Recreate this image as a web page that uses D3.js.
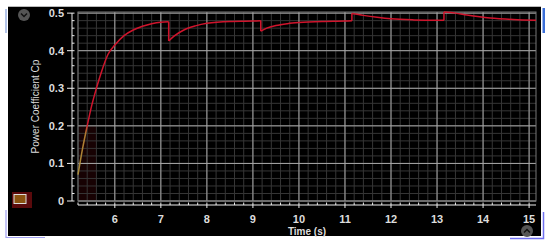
<!DOCTYPE html>
<html>
<head>
<meta charset="utf-8">
<script src="https://cdn.jsdelivr.net/npm/d3@7"></script>
<style>
  body { margin: 0; background: #fff; }
  svg { display: block; font-family: "Liberation Sans", Arial, sans-serif; }
</style>
</head>
<body>
<div id="chart"></div>
<script>
// simulated power coefficient, repeated times mark the step jumps
var time = [5.2, 5.3, 5.4, 5.5, 5.6, 5.7, 5.85, 6.0, 6.2, 6.4, 6.6, 6.8, 7.0, 7.17,
            7.17, 7.3, 7.5, 7.75, 8.0, 8.5, 9.0, 9.17,
            9.17, 9.3, 9.5, 9.75, 10.0, 10.5, 11.0, 11.15,
            11.15, 11.4, 11.7, 12.0, 12.5, 13.0, 13.15,
            13.15, 13.4, 13.65, 14.15, 14.65, 15.15];
var cp   = [0.07, 0.14, 0.2, 0.255, 0.3, 0.34, 0.39, 0.415, 0.44, 0.455, 0.465, 0.472, 0.476, 0.477,
            0.426, 0.44, 0.455, 0.466, 0.473, 0.478, 0.479, 0.48,
            0.452, 0.46, 0.467, 0.472, 0.475, 0.478, 0.479, 0.48,
            0.499, 0.494, 0.489, 0.485, 0.482, 0.481, 0.481,
            0.503, 0.5, 0.495, 0.487, 0.483, 0.481];

var xTicks = [6, 7, 8, 9, 10, 11, 12, 13, 14, 15];
var yTicks = [0, 0.1, 0.2, 0.3, 0.4, 0.5];
var xLabel = "Time (s)";
var yLabel = "Power Coefficient Cp";

var W = 550, H = 244;
var pLeft = 78, pRight = 536, pTop = 12, pBottom = 201;

var x = d3.scaleLinear().domain([5.2, 15.15]).range([pLeft, pRight]);
var y = d3.scaleLinear().domain([0, 0.503]).range([pBottom, pTop]);

var svg = d3.select("#chart").append("svg")
  .attr("width", W)
  .attr("height", H);

// window frame
svg.append("rect").attr("x", 8).attr("y", 7).attr("width", 533).attr("height", 229).attr("fill", "#000");
svg.append("line").attr("x1", 8).attr("x2", 541).attr("y1", 6.5).attr("y2", 6.5).attr("stroke", "#bbb");
svg.append("line").attr("x1", 6).attr("x2", 6).attr("y1", 9).attr("y2", 33).attr("stroke", "#9ab0e0").attr("stroke-width", 1.5);
svg.append("path").attr("d", "M6,210V237.5H45").attr("fill", "none").attr("stroke", "#a0a0f0").attr("stroke-width", 1.2);
svg.append("rect").attr("x", 542.5).attr("y", 8).attr("width", 2.5).attr("height", 25).attr("fill", "#3b6fd8");
svg.append("path").attr("d", "M510,238.5H543.5V212").attr("fill", "none").attr("stroke", "#7070f0").attr("stroke-width", 1.5);

// faint glow near start of curve
svg.append("rect").attr("x", pLeft + 1).attr("y", y(0.2)).attr("width", 17).attr("height", pBottom - y(0.2))
  .attr("fill", "#170203");

// grid
var minorX = d3.range(5.2, 15.16, 0.2);
var minorY = d3.range(0, 0.501, 0.02);

svg.append("g").selectAll("line").data(minorX).enter().append("line")
  .attr("x1", function(d) { return x(d); }).attr("x2", function(d) { return x(d); })
  .attr("y1", pTop).attr("y2", pBottom)
  .attr("stroke", "#363636").attr("stroke-width", 1);
svg.append("g").selectAll("line").data(minorY).enter().append("line")
  .attr("x1", pLeft).attr("x2", pRight)
  .attr("y1", function(d) { return y(d); }).attr("y2", function(d) { return y(d); })
  .attr("stroke", "#363636").attr("stroke-width", 1);
svg.append("g").selectAll("line").data(xTicks).enter().append("line")
  .attr("x1", function(d) { return x(d); }).attr("x2", function(d) { return x(d); })
  .attr("y1", pTop).attr("y2", pBottom)
  .attr("stroke", "#a8a8a8").attr("stroke-width", 1);
svg.append("g").selectAll("line").data(yTicks).enter().append("line")
  .attr("x1", pLeft).attr("x2", pRight)
  .attr("y1", function(d) { return y(d); }).attr("y2", function(d) { return y(d); })
  .attr("stroke", "#a8a8a8").attr("stroke-width", 1);
svg.append("rect").attr("x", pLeft).attr("y", pTop).attr("width", pRight - pLeft).attr("height", pBottom - pTop)
  .attr("fill", "none").attr("stroke", "#777");

// axes
var yAxis = svg.append("g").attr("transform", "translate(72,0)");
yAxis.append("line").attr("y1", y(0.5)).attr("y2", pBottom).attr("stroke", "#eee");
yAxis.selectAll(".minor").data(minorY).enter().append("line")
  .attr("x1", 0).attr("x2", 2.5)
  .attr("y1", function(d) { return y(d); }).attr("y2", function(d) { return y(d); })
  .attr("stroke", "#eee");
yAxis.selectAll(".major").data(yTicks).enter().append("line")
  .attr("x1", -5).attr("x2", 0)
  .attr("y1", function(d) { return y(d); }).attr("y2", function(d) { return y(d); })
  .attr("stroke", "#eee");
yAxis.selectAll("text").data(yTicks).enter().append("text")
  .attr("x", -8).attr("y", function(d) { return y(d) + 4; })
  .attr("text-anchor", "end")
  .attr("fill", "#ddd").style("font-size", "11px").style("font-weight", "bold")
  .text(function(d) { return d === 0 ? "0" : d3.format(".1f")(d); });

var xAxis = svg.append("g").attr("transform", "translate(0,205)");
xAxis.append("line").attr("x1", pLeft).attr("x2", pRight).attr("stroke", "#eee");
xAxis.selectAll(".minor").data(minorX).enter().append("line")
  .attr("x1", function(d) { return x(d); }).attr("x2", function(d) { return x(d); })
  .attr("y1", 0).attr("y2", -2.5).attr("stroke", "#eee");
xAxis.selectAll(".major").data(xTicks).enter().append("line")
  .attr("x1", function(d) { return x(d); }).attr("x2", function(d) { return x(d); })
  .attr("y1", 0).attr("y2", 3).attr("stroke", "#eee");
xAxis.selectAll("text").data(xTicks).enter().append("text")
  .attr("x", function(d) { return x(d); }).attr("y", 18)
  .attr("text-anchor", "middle")
  .attr("fill", "#ddd").style("font-size", "11px").style("font-weight", "bold")
  .text(function(d) { return d; });

svg.append("text")
  .attr("x", (pLeft + pRight) / 2).attr("y", 235)
  .attr("text-anchor", "middle")
  .attr("fill", "#ddd").style("font-size", "10px").style("font-weight", "bold")
  .text(xLabel);

svg.append("text")
  .attr("transform", "translate(39," + ((pTop + pBottom) / 2) + ") rotate(-90)")
  .attr("text-anchor", "middle")
  .attr("fill", "#ddd").style("font-size", "10px")
  .text(yLabel);

// gradient stroke: olive near the bottom, red above
var grad = svg.append("defs").append("linearGradient")
  .attr("id", "cpgrad")
  .attr("gradientUnits", "userSpaceOnUse")
  .attr("x1", 0).attr("x2", 0)
  .attr("y1", y(0)).attr("y2", y(0.5));
grad.append("stop").attr("offset", 0).attr("stop-color", "#a89a40");
grad.append("stop").attr("offset", 0.36).attr("stop-color", "#b07a30");
grad.append("stop").attr("offset", 0.41).attr("stop-color", "#d0142c");
grad.append("stop").attr("offset", 1).attr("stop-color", "#d0142c");

// split series at the jumps
var pts = time.map(function(t, i) { return {t: t, v: cp[i]}; });
var segments = [[]];
pts.forEach(function(p, i) {
  if (i > 0 && p.t === pts[i - 1].t) segments.push([]);
  segments[segments.length - 1].push(p);
});

var smooth = d3.line()
  .curve(d3.curveMonotoneX)
  .x(function(d) { return x(d.t); })
  .y(function(d) { return y(d.v); });
var straight = d3.line()
  .x(function(d) { return x(d.t); })
  .y(function(d) { return y(d.v); });

var curveG = svg.append("g")
  .attr("fill", "none")
  .attr("stroke", "url(#cpgrad)")
  .attr("stroke-width", 1.5);

segments.forEach(function(seg, i) {
  curveG.append("path").attr("d", smooth(seg));
  if (i > 0) {
    var prev = segments[i - 1];
    curveG.append("path").attr("d", straight([prev[prev.length - 1], seg[0]]));
  }
});

// little controls
function button(cx, cy, up) {
  svg.append("circle").attr("cx", cx).attr("cy", cy).attr("r", 6).attr("fill", "#555");
  var d = up ? "M-3,1.5L0,-1.5L3,1.5" : "M-3,-1.5L0,1.5L3,-1.5";
  svg.append("path").attr("transform", "translate(" + cx + "," + cy + ")").attr("d", d)
    .attr("fill", "none").attr("stroke", "#111").attr("stroke-width", 1.5);
}
button(24, 15, false);
button(527, 231, true);

svg.append("rect").attr("x", 12).attr("y", 192).attr("width", 20).attr("height", 16).attr("fill", "#5a0a0c");
svg.append("rect").attr("x", 14).attr("y", 194.5).attr("width", 12).attr("height", 9).attr("fill", "#8a5210")
  .attr("stroke", "#ddd").attr("stroke-width", 1);
</script>
</body>
</html>
